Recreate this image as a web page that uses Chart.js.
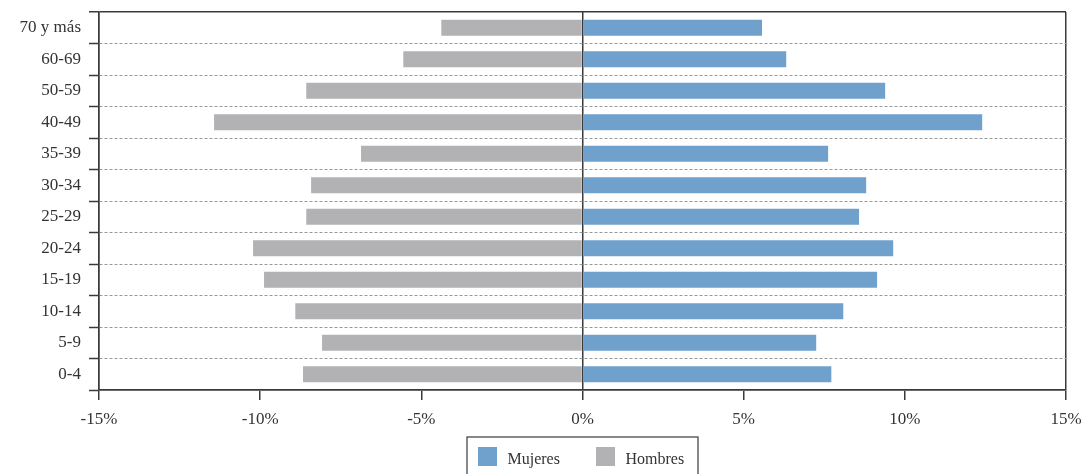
<!DOCTYPE html>
<html><head><meta charset="utf-8">
<script src="https://cdn.jsdelivr.net/npm/chart.js@4"></script>
<style>html,body{margin:0;padding:0;background:#fff}#wrap{width:1086px;height:474px;position:relative}</style>
</head><body><div id="wrap"><canvas id="c"></canvas></div>
<script>
const categories = ['70 y más','60-69','50-59','40-49','35-39','30-34','25-29','20-24','15-19','10-14','5-9','0-4'];
const mujeres = [5.57,6.32,9.39,12.40,7.62,8.80,8.58,9.64,9.14,8.09,7.25,7.72];
const hombres = [4.38,5.56,8.57,11.43,6.87,8.42,8.57,10.22,9.88,8.91,8.08,8.67];
const xTickValues = [-15,-10,-5,0,5,10,15];
const seriesNames = ['Mujeres','Hombres'];
const seriesColors = ['#70a1cd','#b2b2b4'];

const DARK = '#3a3a3a';
const FONT = "'Liberation Serif','DejaVu Serif',serif";

const legendBox = {
  id: 'legendBox',
  afterDraw(chart) {
    const ctx = chart.ctx, ca = chart.chartArea;
    const cx = (ca.left + ca.right) / 2;
    const top = ca.bottom + 47;
    ctx.save();
    ctx.strokeStyle = DARK; ctx.lineWidth = 1.2;
    ctx.strokeRect(cx - 115.5, top, 231, chart.height - top + 5);
    const offs = [-104.5, 13.5];
    ctx.font = '16px ' + FONT;
    ctx.textBaseline = 'alphabetic';
    chart.data.datasets.forEach((ds, i) => {
      ctx.fillStyle = ds.backgroundColor;
      ctx.fillRect(cx + offs[i], top + 10, 19, 19);
      ctx.fillStyle = '#333';
      ctx.fillText(ds.label, cx + offs[i] + 29.5, top + 26.5);
    });
    ctx.restore();
  }
};

new Chart(document.getElementById('c'), {
  type: 'bar',
  data: {
    labels: categories,
    datasets: [
      { label: seriesNames[0], data: mujeres, backgroundColor: seriesColors[0], categoryPercentage: 1, barPercentage: 0.51 },
      { label: seriesNames[1], data: hombres.map(v => -v), backgroundColor: seriesColors[1], categoryPercentage: 1, barPercentage: 0.51 }
    ]
  },
  options: {
    indexAxis: 'y',
    responsive: true,
    maintainAspectRatio: false,
    animation: false,
    layout: { padding: { top: 12, right: 20, bottom: 44, left: 0 } },
    plugins: { legend: { display: false }, tooltip: { enabled: false } },
    scales: {
      x: {
        type: 'linear', stacked: true, min: -15, max: 15,
        afterBuildTicks: s => { s.ticks = xTickValues.map(v => ({ value: v })); },
        ticks: { callback: v => v + '%', font: { size: 17, family: FONT }, color: '#333', padding: 9, maxRotation: 0 },
        grid: {
          color: c => (c.tick && (c.tick.value === 0 || Math.abs(c.tick.value) === 15)) ? DARK : 'rgba(0,0,0,0)',
          lineWidth: 1.5, tickColor: DARK, tickLength: 10, tickWidth: 1.5
        },
        border: { display: true, color: DARK, width: 1.5 },
        afterFit: s => { s.height = 40; s.paddingLeft = 0; s.paddingRight = 0; }
      },
      y: {
        type: 'category', stacked: true, offset: true,
        ticks: { font: { size: 17, family: FONT }, color: '#333', padding: 8 },
        grid: {
          offset: true,
          color: c => (c.index === 0) ? DARK : '#999',
          lineWidth: c => (c.index === 0) ? 1.5 : 1,
          tickColor: DARK, tickLength: 10, tickWidth: 1.5
        },
        border: { display: true, color: DARK, width: 1.5, dash: c => (c.index === 0 || c.index === undefined) ? [] : [3, 2] },
        afterFit: s => { s.width = 99; s.paddingTop = 0; s.paddingBottom = 0; }
      }
    }
  },
  plugins: [legendBox]
});
</script>
</body></html>
